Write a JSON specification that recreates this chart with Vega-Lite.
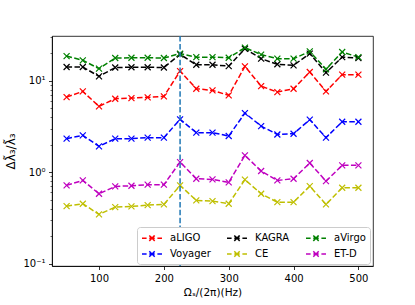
{
  "$schema": "https://vega.github.io/schema/vega-lite/v6.json",
  "autosize": "none",
  "width": 321,
  "height": 230,
  "padding": {"left": 52, "top": 36, "right": 42, "bottom": 39},
  "background": "white",
  "config": {
    "font": "DejaVu Sans",
    "view": {"stroke": "black", "strokeWidth": 0.8},
    "axis": {
      "domainColor": "black", "domainWidth": 0.8,
      "tickColor": "black", "tickWidth": 0.8, "tickSize": 3.5,
      "labelFont": "DejaVu Sans", "labelFontSize": 10, "labelColor": "black", "labelPadding": 3.5,
      "titleFont": "DejaVu Sans", "titleFontSize": 10, "titleFontWeight": "normal", "titleColor": "black",
      "grid": false
    },
    "legend": {
      "labelFont": "DejaVu Sans", "labelFontSize": 10, "labelColor": "black"
    }
  },
  "datasets": {
    "pts": [
      {"s":"aLIGO","x":50,"y":6.65},{"s":"aLIGO","x":75,"y":7.67},{"s":"aLIGO","x":100,"y":5.26},{"s":"aLIGO","x":125,"y":6.38},{"s":"aLIGO","x":150,"y":6.48},{"s":"aLIGO","x":175,"y":6.60},{"s":"aLIGO","x":200,"y":6.76},{"s":"aLIGO","x":225,"y":12.8},{"s":"aLIGO","x":250,"y":8.21},{"s":"aLIGO","x":275,"y":7.87},{"s":"aLIGO","x":300,"y":6.94},{"s":"aLIGO","x":325,"y":14.4},{"s":"aLIGO","x":350,"y":8.77},{"s":"aLIGO","x":375,"y":7.54},{"s":"aLIGO","x":400,"y":8.21},{"s":"aLIGO","x":425,"y":12.5},{"s":"aLIGO","x":450,"y":7.67},{"s":"aLIGO","x":475,"y":11.7},{"s":"aLIGO","x":500,"y":11.7},
      {"s":"Voyager","x":50,"y":2.33},{"s":"Voyager","x":75,"y":2.53},{"s":"Voyager","x":100,"y":1.92},{"s":"Voyager","x":125,"y":2.33},{"s":"Voyager","x":150,"y":2.33},{"s":"Voyager","x":175,"y":2.39},{"s":"Voyager","x":200,"y":2.39},{"s":"Voyager","x":225,"y":3.79},{"s":"Voyager","x":250,"y":2.71},{"s":"Voyager","x":275,"y":2.71},{"s":"Voyager","x":300,"y":2.49},{"s":"Voyager","x":325,"y":4.44},{"s":"Voyager","x":350,"y":3.20},{"s":"Voyager","x":375,"y":2.59},{"s":"Voyager","x":400,"y":2.64},{"s":"Voyager","x":425,"y":3.76},{"s":"Voyager","x":450,"y":2.39},{"s":"Voyager","x":475,"y":3.57},{"s":"Voyager","x":500,"y":3.57},
      {"s":"KAGRA","x":50,"y":14.2},{"s":"KAGRA","x":75,"y":14.2},{"s":"KAGRA","x":100,"y":11.2},{"s":"KAGRA","x":125,"y":14.0},{"s":"KAGRA","x":150,"y":14.1},{"s":"KAGRA","x":175,"y":14.1},{"s":"KAGRA","x":200,"y":14.0},{"s":"KAGRA","x":225,"y":19.5},{"s":"KAGRA","x":250,"y":15.0},{"s":"KAGRA","x":275,"y":15.0},{"s":"KAGRA","x":300,"y":14.5},{"s":"KAGRA","x":325,"y":22.5},{"s":"KAGRA","x":350,"y":17.5},{"s":"KAGRA","x":375,"y":15.2},{"s":"KAGRA","x":400,"y":14.8},{"s":"KAGRA","x":425,"y":19.9},{"s":"KAGRA","x":450,"y":12.3},{"s":"KAGRA","x":475,"y":18.2},{"s":"KAGRA","x":500,"y":17.8},
      {"s":"CE","x":50,"y":0.425},{"s":"CE","x":75,"y":0.452},{"s":"CE","x":100,"y":0.345},{"s":"CE","x":125,"y":0.415},{"s":"CE","x":150,"y":0.422},{"s":"CE","x":175,"y":0.436},{"s":"CE","x":200,"y":0.444},{"s":"CE","x":225,"y":0.717},{"s":"CE","x":250,"y":0.491},{"s":"CE","x":275,"y":0.483},{"s":"CE","x":300,"y":0.452},{"s":"CE","x":325,"y":0.828},{"s":"CE","x":350,"y":0.581},{"s":"CE","x":375,"y":0.470},{"s":"CE","x":400,"y":0.470},{"s":"CE","x":425,"y":0.704},{"s":"CE","x":450,"y":0.444},{"s":"CE","x":475,"y":0.676},{"s":"CE","x":500,"y":0.676},
      {"s":"aVirgo","x":50,"y":18.7},{"s":"aVirgo","x":75,"y":16.8},{"s":"aVirgo","x":100,"y":13.6},{"s":"aVirgo","x":125,"y":17.8},{"s":"aVirgo","x":150,"y":17.9},{"s":"aVirgo","x":175,"y":17.9},{"s":"aVirgo","x":200,"y":17.8},{"s":"aVirgo","x":225,"y":19.9},{"s":"aVirgo","x":250,"y":18.2},{"s":"aVirgo","x":275,"y":18.2},{"s":"aVirgo","x":300,"y":17.9},{"s":"aVirgo","x":325,"y":23.1},{"s":"aVirgo","x":350,"y":19.4},{"s":"aVirgo","x":375,"y":17.5},{"s":"aVirgo","x":400,"y":17.5},{"s":"aVirgo","x":425,"y":21.0},{"s":"aVirgo","x":450,"y":13.4},{"s":"aVirgo","x":475,"y":20.7},{"s":"aVirgo","x":500,"y":18.2},
      {"s":"ET-D","x":50,"y":0.717},{"s":"ET-D","x":75,"y":0.813},{"s":"ET-D","x":100,"y":0.581},{"s":"ET-D","x":125,"y":0.699},{"s":"ET-D","x":150,"y":0.711},{"s":"ET-D","x":175,"y":0.730},{"s":"ET-D","x":200,"y":0.730},{"s":"ET-D","x":225,"y":1.29},{"s":"ET-D","x":250,"y":0.849},{"s":"ET-D","x":275,"y":0.834},{"s":"ET-D","x":300,"y":0.773},{"s":"ET-D","x":325,"y":1.53},{"s":"ET-D","x":350,"y":1.03},{"s":"ET-D","x":375,"y":0.813},{"s":"ET-D","x":400,"y":0.849},{"s":"ET-D","x":425,"y":1.26},{"s":"ET-D","x":450,"y":0.799},{"s":"ET-D","x":475,"y":1.19},{"s":"ET-D","x":500,"y":1.19}
    ],
    "vl": [{"x": 225}]
  },
  "layer": [
    {
      "data": {"name": "pts"},
      "mark": {"type": "line", "strokeWidth": 1.5, "strokeDash": [5.5, 2.4], "clip": true},
      "encoding": {
        "x": {"field": "x", "type": "quantitative",
              "scale": {"domain": [27.5, 522.5], "nice": false, "zero": false},
              "axis": {"values": [100, 200, 300, 400, 500], "title": "Ωₛ/(2π)(Hz)", "titlePadding": 4, "titleFontSize": 10.5}},
        "y": {"field": "y", "type": "quantitative",
              "scale": {"type": "log", "domain": [0.094, 31], "nice": false},
              "axis": {"values": [0.1,0.2,0.3,0.4,0.5,0.6,0.7,0.8,0.9,1,2,3,4,5,6,7,8,9,10,20,30],
                       "labelExpr": "datum.value == 10 ? '10¹' : datum.value == 1 ? '10⁰' : datum.value == 0.1 ? '10⁻¹' : ''",
                       "tickSize": {"condition": {"test": "datum.value == 10 || datum.value == 1 || datum.value == 0.1", "value": 3.5}, "value": 2},
                       "tickWidth": {"condition": {"test": "datum.value == 10 || datum.value == 1 || datum.value == 0.1", "value": 0.8}, "value": 0.6},
                       "labelOverlap": false, "labelFlush": false,
                       "title": "Δλ̃₃/λ̃₃", "titlePadding": 5, "titleFontSize": 12}},
        "color": {"field": "s", "type": "nominal",
                  "scale": {"domain": ["aLIGO","KAGRA","aVirgo","Voyager","CE","ET-D"],
                            "range": ["#ff0000","#000000","#008000","#0000ff","#bfbf00","#bf00bf"]},
                  "legend": {"title": null, "orient": "none", "legendX": 85, "legendY": 191,
                             "columns": 3, "direction": "horizontal",
                             "symbolType": "M-1.667,0L-0.9,0M-0.45,0L0.45,0M0.9,0L1.667,0M-0.45,-0.45L0.45,0.45M-0.45,0.45L0.45,-0.45",
                             "symbolSize": 144, "symbolStrokeWidth": 1.5, "symbolFillColor": "transparent",
                             "symbolDash": [1, 0], "symbolOffset": 4,
                             "labelOffset": 11, "columnPadding": 12, "rowPadding": 3,
                             "padding": 4, "fillColor": "white", "strokeColor": "#cccccc", "cornerRadius": 3}}
      }
    },
    {
      "data": {"name": "pts"},
      "mark": {"type": "point", "shape": "M-1,-1L1,1M-1,1L1,-1", "filled": false, "size": 36, "strokeWidth": 1.2, "opacity": 1},
      "encoding": {
        "x": {"field": "x", "type": "quantitative"},
        "y": {"field": "y", "type": "quantitative"},
        "color": {"field": "s", "type": "nominal"}
      }
    },
    {
      "data": {"name": "vl"},
      "mark": {"type": "rule", "color": "#1f77b4", "strokeWidth": 1.5, "strokeDash": [5.5, 2.4]},
      "encoding": {"x": {"field": "x", "type": "quantitative"}}
    }
  ]
}
